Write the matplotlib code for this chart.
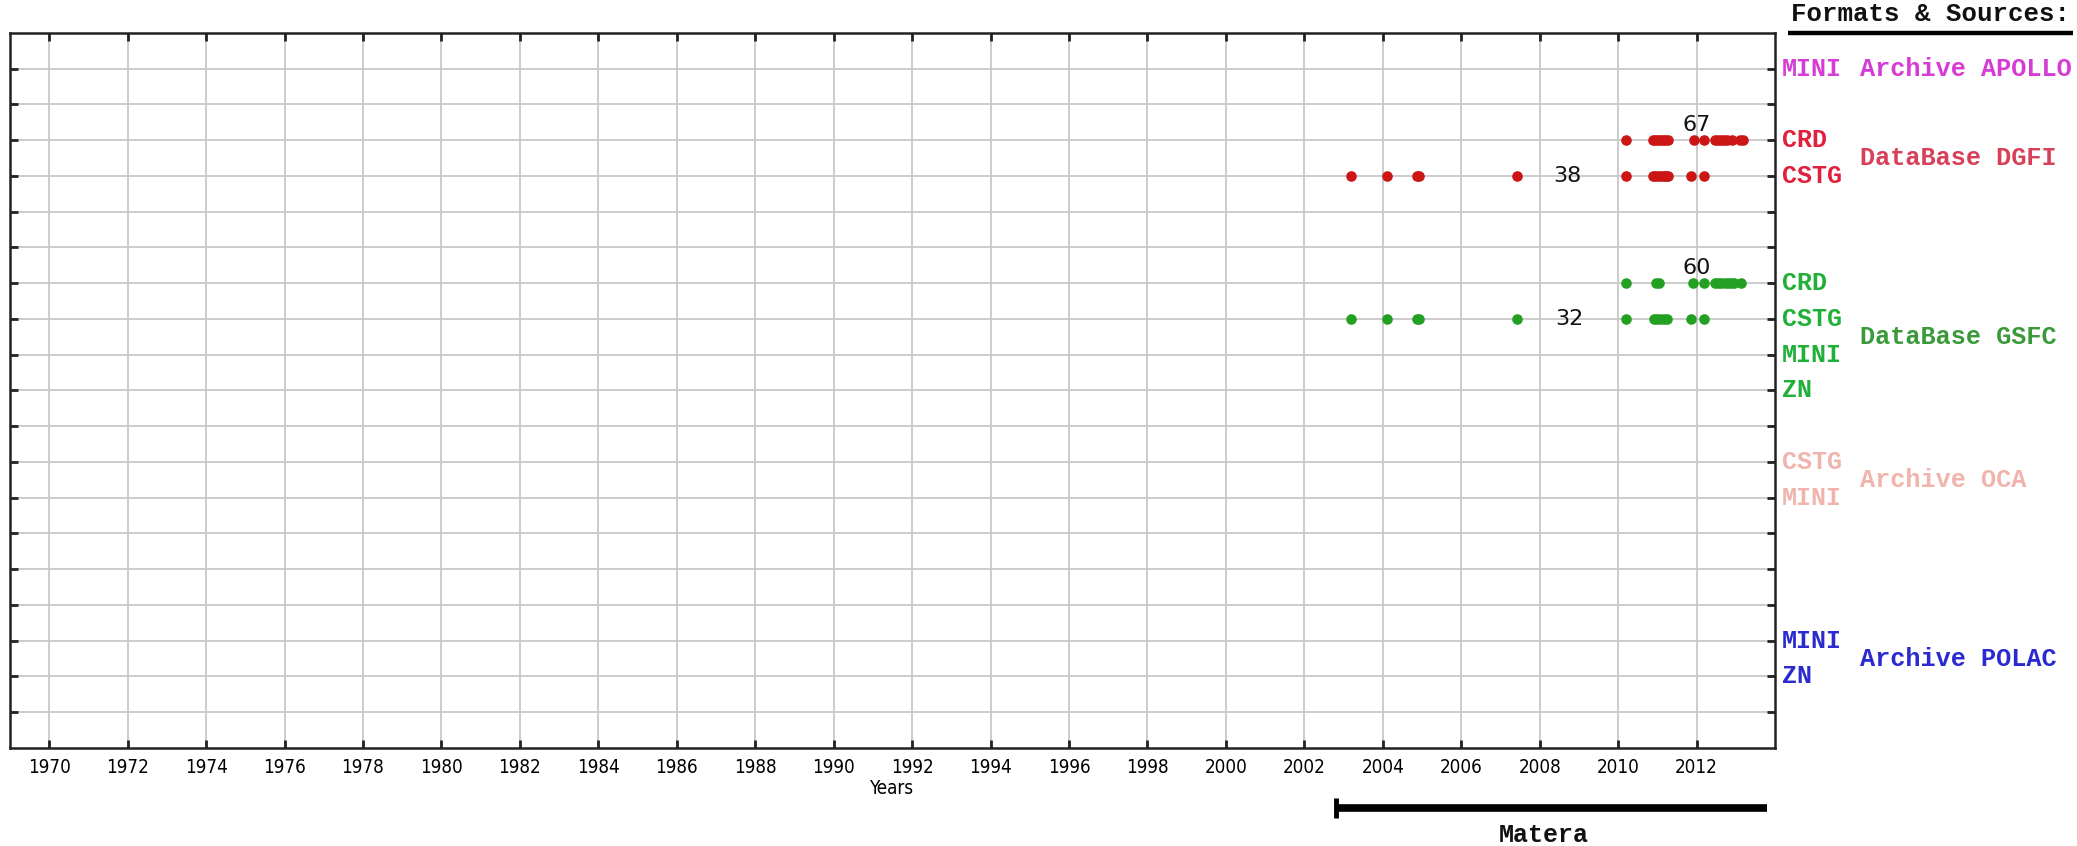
import matplotlib
matplotlib.use("Agg")
import matplotlib.pyplot as plt
import matplotlib.transforms as mtransforms

# ---------------- data ----------------
year_ticks = list(range(1970, 2013, 2))
row_count = 19  # grid rows 1..19

# row positions (from the top) of each format/source line
formats = ["MINI", "CRD", "CSTG", "CRD", "CSTG", "MINI", "ZN", "CSTG", "MINI", "MINI", "ZN"]
format_rows = [1, 3, 4, 7, 8, 9, 10, 12, 13, 17, 18]
format_colors = ["#d63bd6", "#e0203c", "#e0203c", "#20b038", "#20b038", "#20b038", "#20b038",
                 "#f0b4ac", "#f0b4ac", "#2a2ad0", "#2a2ad0"]

sources = ["Archive APOLLO", "DataBase DGFI", "DataBase GSFC", "Archive OCA", "Archive POLAC"]
source_rows = [1, 3.5, 8.5, 12.5, 17.5]
source_colors = ["#d63bd6", "#d8405a", "#3a9a3a", "#f0b4ac", "#2a2ad0"]

# observation epochs (decimal years)
dgfi_crd = [2010.19, 2010.88, 2010.95, 2011.02, 2011.08, 2011.14, 2011.20, 2011.27,
            2011.93, 2012.20, 2012.47, 2012.55, 2012.62, 2012.70, 2012.78, 2012.90,
            2013.12, 2013.18]
dgfi_cstg = [2003.18, 2004.11, 2004.86, 2004.92, 2007.42, 2010.19, 2010.88, 2010.95,
             2011.02, 2011.09, 2011.16, 2011.22, 2011.27, 2011.87, 2012.20]
gsfc_crd = [2010.19, 2010.97, 2011.03, 2011.90, 2012.20, 2012.47, 2012.55, 2012.63,
            2012.72, 2012.80, 2012.88, 2012.96, 2013.14]
gsfc_cstg = [2003.18, 2004.11, 2004.86, 2004.92, 2007.42, 2010.19, 2010.92, 2011.00,
             2011.08, 2011.16, 2011.24, 2011.87, 2012.20]

series = [(dgfi_crd, 3, "#cc1515"), (dgfi_cstg, 4, "#cc1515"),
          (gsfc_crd, 7, "#22a022"), (gsfc_cstg, 8, "#22a022")]

count_values = [67, 38, 60, 32]
count_x = [2012.0, 2008.7, 2012.0, 2008.75]
count_y = [2.58, 4.0, 6.58, 8.0]

station = "Matera"
station_start = 2002.8
station_end = 2013.8

# ---------------- figure ----------------
fig = plt.figure(figsize=(20.77, 8.46), dpi=100)
ax = fig.add_axes([0.0048, 0.116, 0.8498, 0.845])

ax.set_xlim(1969.0, 2014.0)
ax.set_ylim(20, 0)
ax.set_xticks(year_ticks)
ax.set_xticklabels([str(y) for y in year_ticks], fontsize=13.5,
                   family="DejaVu Sans", fontstretch="condensed")
ax.set_yticks(range(1, row_count + 1))
ax.set_yticklabels([])
ax.tick_params(direction="in", top=True, right=True, length=6, width=2, pad=7,
               color="#222222")
ax.grid(True, color="#c8c8c8", linewidth=1.3)
ax.set_axisbelow(True)
for sp in ax.spines.values():
    sp.set_linewidth(1.8)
    sp.set_color("#222222")

ax.set_xlabel("Years", fontsize=13.5, family="DejaVu Sans", fontstretch="condensed",
              labelpad=2)

for xs, row, col in series:
    ax.plot(xs, [row] * len(xs), "o", color=col, markersize=6.6, linestyle="none",
            zorder=3)

for val, x, y in zip(count_values, count_x, count_y):
    ax.text(x, y, str(val), fontsize=16, color="#111111", ha="center", va="center",
            family="DejaVu Sans", fontweight="medium")

tr = mtransforms.blended_transform_factory(ax.transAxes, ax.transData)
mono = "Liberation Mono"
for name, row, col in zip(formats, format_rows, format_colors):
    ax.text(1.004, row, name, transform=tr, fontsize=18, color=col, family=mono,
            fontweight="bold", ha="left", va="center", clip_on=False)
for name, row, col in zip(sources, source_rows, source_colors):
    ax.text(1.048, row, name, transform=tr, fontsize=18.2, color=col, family=mono,
            fontweight="bold", ha="left", va="center", clip_on=False)

ax.text(1.088, 1.027, "Formats & Sources:", transform=ax.transAxes, fontsize=18.5,
        color="#111111", family=mono, fontweight="bold", ha="center", va="center",
        clip_on=False)
ax.plot([1.0074, 1.169], [1.0, 1.0], transform=ax.transAxes, color="black",
        linewidth=3.2, clip_on=False, solid_capstyle="butt")

# station coverage bar
trx = mtransforms.blended_transform_factory(ax.transData, ax.transAxes)
ax.plot([station_start, station_end], [-0.084, -0.084], transform=trx, color="black",
        linewidth=5.5, clip_on=False, solid_capstyle="butt")
ax.plot([station_start, station_start], [-0.070, -0.098], transform=trx, color="black",
        linewidth=3.5, clip_on=False, solid_capstyle="butt")
ax.text((station_start + station_end) / 2 - 0.2, -0.122, station, transform=trx,
        fontsize=18, family=mono, fontweight="bold", color="#111111", ha="center",
        va="center", clip_on=False)

fig.savefig("out.png", dpi=100)
